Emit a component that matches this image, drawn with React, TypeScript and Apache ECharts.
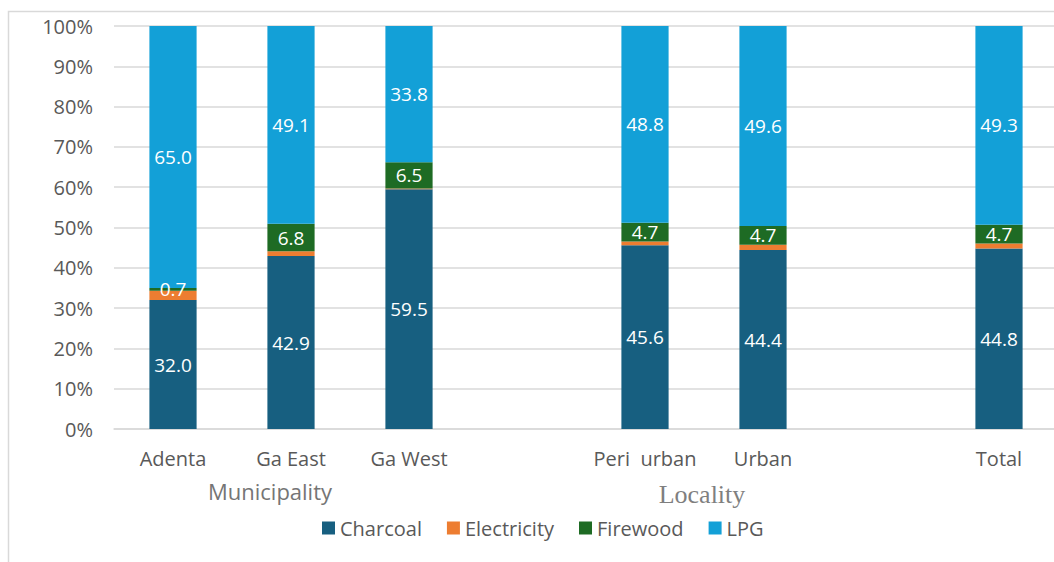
import React, { useEffect, useRef } from "react";
import * as echarts from "echarts";

const categories = ["Adenta", "Ga East", "Ga West", "", "Peri  urban", "Urban", "", "Total"];
const charcoal = [32.0, 42.9, 59.5, null, 45.6, 44.4, null, 44.8];
const electricity = [2.3, 1.2, 0.2, null, 0.9, 1.3, null, 1.2];
const firewood = [0.7, 6.8, 6.5, null, 4.7, 4.7, null, 4.7];
const lpg = [65.0, 49.1, 33.8, null, 48.8, 49.6, null, 49.3];
const yTicks = [0, 10, 20, 30, 40, 50, 60, 70, 80, 90, 100];

const FONT = "'Open Sans', 'Noto Sans', sans-serif";

export default function App() {
  const ref = useRef<HTMLDivElement>(null);
  useEffect(() => {
    document.body.style.margin = "0";
    const chart = echarts.init(ref.current!, null, { renderer: "svg" });
    const lbl = (show: boolean) => ({
      show,
      position: "inside",
      color: "#ffffff",
      fontSize: 19,
      fontFamily: FONT,
      formatter: (p: any) => (p.value == null ? "" : Number(p.value).toFixed(1)),
    });
    const mk = (name: string, data: (number | null)[], color: string, show: boolean) => ({
      name,
      type: "bar",
      stack: "total",
      data,
      barWidth: "40%",
      itemStyle: { color },
      label: lbl(show),
      labelLayout: { hideOverlap: false },
    });
    chart.setOption({
      animation: false,
      grid: { left: 114, right: 0, top: 26, bottom: 133, containLabel: false },
      xAxis: {
        type: "category",
        data: categories,
        axisLine: { show: true, lineStyle: { color: "#d9d9d9", width: 1.5 } },
        axisTick: { show: false },
        axisLabel: { color: "#595959", fontSize: 20, fontFamily: FONT, margin: 19, interval: 0 },
      },
      yAxis: {
        type: "value",
        min: yTicks[0],
        max: yTicks[yTicks.length - 1],
        interval: 10,
        axisLine: { show: false },
        axisTick: { show: false },
        splitLine: { lineStyle: { color: "#d9d9d9", width: 1.5 } },
        axisLabel: { color: "#595959", fontSize: 20, fontFamily: FONT, margin: 21, formatter: "{value}%" },
      },
      legend: {
        bottom: 19,
        left: 317,
        itemWidth: 13,
        itemHeight: 13,
        itemGap: 25,
        icon: "rect",
        textStyle: { color: "#595959", fontSize: 20, fontFamily: FONT },
        data: ["Charcoal", "Electricity", "Firewood", "LPG"],
      },
      graphic: [
        {
          type: "rect",
          shape: { x: 8.5, y: 11.5, width: 1200, height: 700 },
          style: { fill: "none", stroke: "#d9d9d9", lineWidth: 1.5 },
          silent: true,
        },
        {
          type: "text",
          x: 270,
          y: 491,
          style: {
            text: "Municipality",
            fontSize: 22,
            fontFamily: FONT,
            fill: "#757575",
            textAlign: "center",
            textVerticalAlign: "middle",
          },
        },
        {
          type: "text",
          x: 702,
          y: 494,
          style: {
            text: "Locality",
            fontSize: 26,
            fontFamily: "'Liberation Serif', 'DejaVu Serif', serif",
            fill: "#7f7f7f",
            textAlign: "center",
            textVerticalAlign: "middle",
          },
        },
      ],
      series: [
        mk("Charcoal", charcoal, "#175f80", true),
        mk("Electricity", electricity, "#ed7d31", false),
        mk("Firewood", firewood, "#1e6b24", true),
        mk("LPG", lpg, "#13a0d7", true),
      ],
    });
    return () => chart.dispose();
  }, []);
  return (
    <div style={{ position: "absolute", left: 0, top: 0, width: 1054, height: 562, overflow: "hidden" }}>
      <div ref={ref} style={{ width: 1058, height: 562 }} />
    </div>
  );
}
